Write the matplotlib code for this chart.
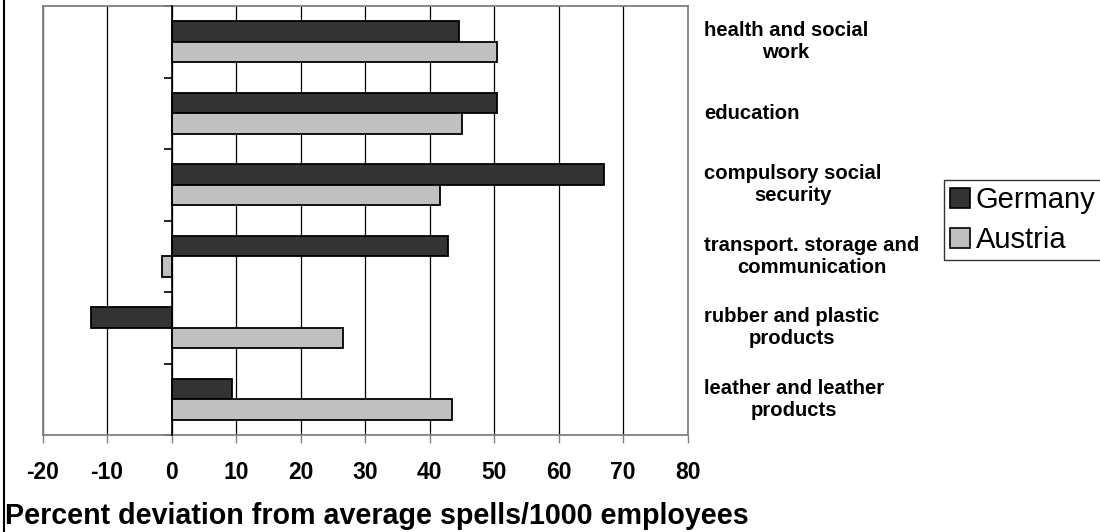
import matplotlib
matplotlib.use("Agg")
import matplotlib.pyplot as plt
import numpy as np
from matplotlib.patches import Patch
from matplotlib.lines import Line2D
import matplotlib.transforms as mtransforms

plt.rcParams['font.family'] = ['Liberation Sans', 'DejaVu Sans']

categories = ["health and social\nwork", "education", "compulsory social\nsecurity",
              "transport. storage and\ncommunication", "rubber and plastic\nproducts",
              "leather and leather\nproducts"]
germany = [44.6, 50.4, 67.1, 42.8, -12.5, 9.4]
austria = [50.5, 45.0, 41.6, -1.5, 26.5, 43.4]
series_names = ["Germany", "Austria"]
xticks = [-20, -10, 0, 10, 20, 30, 40, 50, 60, 70, 80]

W, H = 1100, 532
fig = plt.figure(figsize=(W/100, H/100), dpi=100)
ax = fig.add_axes([42.5/W, 97/H, (687.7-42.5)/W, (435-6)/H])

y = np.arange(len(categories))
bh = 0.287
ax.barh(y - bh/2, germany, height=bh, color='#333333', edgecolor='black', linewidth=1.3, zorder=3)
ax.barh(y + bh/2, austria, height=bh, color='#c0c0c0', edgecolor='black', linewidth=1.3, zorder=3)

ax.set_xlim(-20, 80)
ax.set_ylim(len(categories) - 0.5, -0.5)
ax.set_xticks(xticks)
ax.set_xticklabels([str(t) for t in xticks], fontweight='bold', fontsize=16.5)
ax.tick_params(axis='x', direction='out', length=6, width=1, color='#808080', pad=13)
ax.xaxis.grid(True, color='black', linewidth=0.9, zorder=1)
ax.set_axisbelow(True)

ax.spines['left'].set_position(('data', 0))
ax.spines['left'].set_color('black')
ax.spines['left'].set_linewidth(1.2)
ax.spines['left'].set_zorder(4)
ax.set_yticks(np.arange(-0.5, len(categories), 1))
ax.set_yticklabels([])
ax.tick_params(axis='y', direction='out', length=6, width=1.2, color='black')
for s in ['top', 'right', 'bottom']:
    ax.spines[s].set_color('#808080')
    ax.spines[s].set_linewidth(1.3)
ax.axvline(-20, color='#808080', linewidth=1.3, zorder=5, clip_on=False)

trans = mtransforms.blended_transform_factory(fig.transFigure, ax.transData)
for i, c in enumerate(categories):
    ax.text(704/W, i, c, transform=trans, ha='left', va='center', multialignment='center',
            fontsize=14.6, fontweight='bold', linespacing=1.22, clip_on=False)

fig.text(5/W, 8/H, "Percent deviation from average spells/1000 employees",
         fontsize=20.6, fontweight='bold', ha='left', va='baseline')

fig.add_artist(Line2D([3.5/W, 3.5/W], [0, 1], transform=fig.transFigure, color='black', linewidth=1.5))

handles = [Patch(facecolor='#333333', edgecolor='black', linewidth=1.2),
           Patch(facecolor='#c0c0c0', edgecolor='black', linewidth=1.2)]
leg = fig.legend(handles, series_names, loc='upper left', bbox_to_anchor=(944/W, 1 - 180/H),
                 fontsize=21, frameon=True, fancybox=False, shadow=False, edgecolor='black',
                 handlelength=0.68, handleheight=0.68, handletextpad=0.2, borderpad=0.2,
                 labelspacing=0.42, borderaxespad=0)
leg.get_frame().set_linewidth(1)

fig.savefig("out.png", dpi=100)
